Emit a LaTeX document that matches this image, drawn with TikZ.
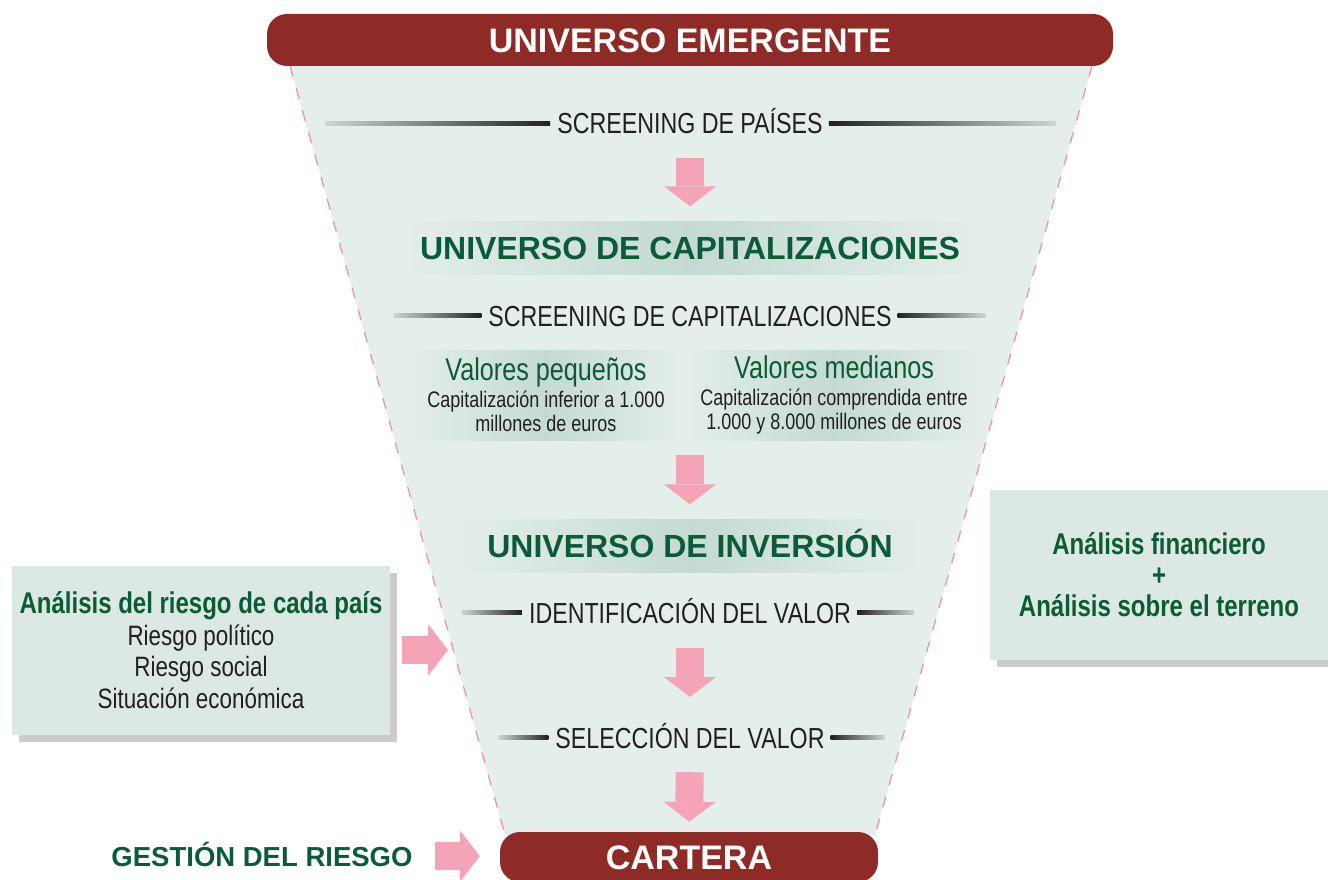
\documentclass[tikz,border=0pt]{standalone}
\usepackage{fontspec}
\setmainfont{Liberation Sans}
\newfontfamily\condfont[FakeStretch=0.8]{Liberation Sans}
\usetikzlibrary{positioning,arrows.meta,shadows}

\definecolor{barred}{HTML}{8E2B26}
\definecolor{darkgreen}{HTML}{0B5B3B}
\definecolor{flowpink}{HTML}{F4A4B6}
\definecolor{edgepink}{HTML}{EE93A8}
\definecolor{funnelbg}{HTML}{E4EEEA}
\definecolor{bandmid}{HTML}{C4DAD2}
\definecolor{boxbg}{HTML}{DCE8E3}
\definecolor{inkdark}{HTML}{231F20}
\definecolor{rulelight}{HTML}{CDD6D2}

\begin{document}
\begin{tikzpicture}[x=1pt,y=-1pt,
	bar/.style={fill=barred,rounded corners=20pt,text=white,font=\bfseries\fontsize{34}{36}\selectfont,text height=24.4pt,text depth=0pt},
	band/.style={left color=funnelbg,right color=funnelbg,middle color=bandmid},
	heading/.style={band,text=darkgreen,minimum height=53pt,font=\bfseries\fontsize{32}{34}\selectfont,text height=22.9pt,text depth=0pt},
	stepname/.style={anchor=base,inner sep=0pt,text=inkdark,font=\condfont\fontsize{29}{31}\selectfont,text height=20.8pt,text depth=0pt},
	valbox/.style={band,minimum height=90pt,align=center,text=inkdark,font=\condfont\fontsize{22.5}{24}\selectfont},
	sidebox/.style={fill=boxbg,drop shadow={shadow xshift=7pt,shadow yshift=-7pt,fill=black!20,opacity=1},align=center,text=inkdark,font=\condfont\fontsize{28}{31.5}\selectfont},
	flow/.style={draw=flowpink,line width=28pt,-{Triangle[length=20pt,width=52pt,line width=0pt]}}]
	
	\useasboundingbox (0,0) rectangle (1328,880);
	
	% funnel
	\fill[funnelbg] (290,66) -- (1092,66) -- (875,835) -- (505,835) -- cycle;
	\draw[edgepink,line width=1.3pt,dash pattern=on 11pt off 12pt] (290,66) -- (505,835);
	\draw[edgepink,line width=1.3pt,dash pattern=on 11pt off 12pt] (1092,66) -- (875,835);
	
	\node[bar,minimum width=846pt,minimum height=52pt] (emerg) at (690,40) {UNIVERSO EMERGENTE};
	\node[stepname] (scrpais) at (690,134) {SCREENING DE PAÍSES};
	\node[heading,minimum width=580pt] (capband) at (690,248) {UNIVERSO DE CAPITALIZACIONES};
	\node[stepname] (scrcap) at (690,326) {SCREENING DE CAPITALIZACIONES};
	\node[valbox,minimum width=272pt] (small) at (546,395) {{\color{darkgreen}\fontsize{31.5}{34}\selectfont Valores pequeños}\\[3pt]
		Capitalización inferior a 1.000\\ millones de euros};
	\node[valbox,minimum width=296pt] (medium) at (834,395) {{\color{darkgreen}\fontsize{31.5}{34}\selectfont Valores medianos}\\[3pt]
		Capitalización comprendida entre\\ 1.000 y 8.000 millones de euros};
	\node[heading,minimum width=470pt] (invband) at (690,546) {UNIVERSO DE INVERSIÓN};
	\node[stepname] (ident) at (690,623) {IDENTIFICACIÓN DEL VALOR};
	\node[stepname] (select) at (690,748) {SELECCIÓN DEL VALOR};
	\node[bar,minimum width=378pt,minimum height=50pt] (cartera) at (689,857) {CARTERA};
	
	\node[sidebox,minimum width=378pt,minimum height=169pt] (riskbox) at (201,650) {{\color{darkgreen}\bfseries\fontsize{30}{32}\selectfont Análisis del riesgo de cada país}\\
		Riesgo político\\ Riesgo social\\ Situación económica};
	\node[sidebox,font=\condfont\bfseries\fontsize{30}{31}\selectfont,text=darkgreen,minimum width=338pt,minimum height=170pt] (analysis) at (1159,575) {Análisis financiero\\ +\\ Análisis sobre el terreno};
	\node[anchor=base,inner sep=0pt,text=darkgreen,font=\bfseries\fontsize{27.5}{30}\selectfont,text height=19.7pt,text depth=0pt] (gestion) at (262,866) {GESTIÓN DEL RIESGO};
	\coordinate (edgeL) at (448,650);
	
	% fading rules beside the step names
	\foreach \n/\l/\r in {scrpais/225/227,scrcap/88/88,ident/60/57,select/50/54}{
		\shade[left color=rulelight,right color=inkdark] ([xshift=-7pt,yshift=-2pt]\n.west) rectangle ([xshift={-(\l+7)*1pt},yshift=2pt]\n.west);
		\shade[left color=inkdark,right color=rulelight] ([xshift=6pt,yshift=-2pt]\n.east) rectangle ([xshift={(\r+6)*1pt},yshift=2pt]\n.east);
	}
	
	% flow arrows
	\draw[flow,shorten <=24pt,shorten >=15pt] (scrpais.south) -- (capband.north);
	\draw[flow,shorten <=15pt,shorten >=15pt] (invband.north |- small.south) -- (invband.north);
	\draw[flow,shorten <=25pt,shorten >=30pt] (ident.south) -- (select.north);
	\draw[flow,shorten <=24pt,shorten >=10pt] (select.south) -- (cartera.north);
	\draw[flow,shorten <=12pt] (riskbox.east) -- (edgeL);
	\draw[flow,shorten <=22pt,shorten >=20pt] (gestion.east) -- (gestion.east -| cartera.west);
\end{tikzpicture}
\end{document}
